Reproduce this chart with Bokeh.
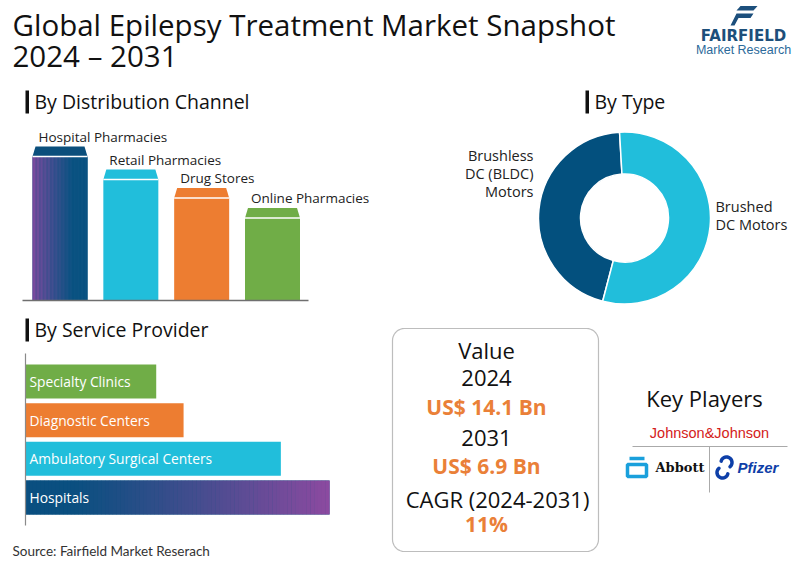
import numpy as np
from bokeh.plotting import figure
from bokeh.models import Range1d
from bokeh.core.properties import value
from bokeh.embed import file_html
from bokeh.resources import INLINE

# ---------------- data ----------------
title_lines = ["Global Epilepsy Treatment Market Snapshot", "2024 \u2013 2031"]
dist_channels = ["Hospital Pharmacies", "Retail Pharmacies", "Drug Stores", "Online Pharmacies"]
dist_values = [100, 85, 73, 60]
type_label_lines = [["Brushless", "DC (BLDC)", "Motors"], ["Brushed", "DC Motors"]]
type_shares = [45, 55]
service_providers = ["Specialty Clinics", "Diagnostic Centers", "Ambulatory Surgical Centers", "Hospitals"]
service_values = [43, 52, 84, 100]
value_lines = ["Value", "2024", "US$ 14.1 Bn", "2031", "US$ 6.9 Bn", "CAGR (2024-2031)", "11%"]
key_players = ["Johnson&Johnson", "Abbott", "Pfizer"]
source_text = "Source: Fairfield Market Reserach"

# ---------------- styles ----------------
FONT = "Open Sans"
CYAN = "#21bedb"
DBLUE = "#03507e"
ORANGE = "#ed7d31"
GREEN = "#70ad47"
TXT_ORANGE = "#ea8038"

W, H = 796, 560
X0, Y0 = 0, 0
p = figure(width=W, height=H, x_range=Range1d(X0, X0 + W), y_range=Range1d(Y0 + H, Y0),
           x_axis_type=None, y_axis_type=None, output_backend="svg",
           toolbar_location=None, min_border=0, title=None)
p.outline_line_color = None
p.background_fill_color = "white"
p.border_fill_color = "white"

xr, yr = {}, {}


def add_range(store, name, v0, s0, v1, s1, lo, hi):
    k = (s1 - s0) / (v1 - v0)
    store[name] = Range1d(start=v0 + (lo - s0) / k, end=v0 + (hi - s0) / k)
    return k


XL, XH = X0, X0 + W
YL, YH = Y0 + H, Y0
add_range(xr, "dx", 0, 59.5, 3, 272, XL, XH)
kdy = add_range(yr, "dy", 0, 300, 100, 146, YL, YH)
add_range(xr, "px", 0, 624, 1, 625, XL, XH)
add_range(yr, "py", 0, 217.5, 1, 216.5, YL, YH)
add_range(xr, "sx", 0, 25, 100, 329, XL, XH)
add_range(yr, "sy", 0, 381, 3, 497, YL, YH)
p.extra_x_ranges = xr
p.extra_y_ranges = yr


def hex2rgb(h):
    h = h.lstrip("#")
    return np.array([int(h[i:i + 2], 16) for i in (0, 2, 4)], dtype=float)


def lerp(c1, c2, t):
    a, b = hex2rgb(c1), hex2rgb(c2)
    c = a + (b - a) * t
    return "#%02x%02x%02x" % tuple(int(round(v)) for v in c)


def txt(x, y, s, size, color="#111111", align="left", baseline="middle",
        bold=False, italic=False, font=FONT, **kw):
    style = "bold" if bold else "normal"
    if italic:
        style = "bold italic" if bold else "italic"
    p.text(x=[x], y=[y], text=[s], text_font=value(font), text_font_size=size,
           text_color=color, text_align=align, text_baseline=baseline,
           text_font_style=style, **kw)


# ---------------- title + logo ----------------
txt(12, 24, title_lines[0], "29.5px")
txt(12, 55, title_lines[1], "29.5px")

p.patches(xs=[[740, 757, 753, 736], [736, 753, 750, 738, 734, 730]],
          ys=[[5.5, 5.5, 10, 10], [13, 13, 17.5, 17.5, 25, 25]],
          fill_color="#1c4f7c", line_color=None)
txt(743, 35, "FAIRFIELD", "15px", color="#1d4f7a", align="center", bold=True, font="DejaVu Sans")
txt(743, 49, "Market Research", "12.5px", color="#2b6a9a", align="center", font="Liberation Sans")

# ---------------- section headers ----------------
for (bx, by, label) in [(25, 90, "By Distribution Channel"), (585, 90, "By Type"),
                        (25, 318, "By Service Provider")]:
    p.quad(left=[bx], right=[bx + 3.5], top=[by], bottom=[by + 23], fill_color="#111111", line_color=None)
    txt(bx + 9, by + 10.5, label, "19.5px")

# ---------------- distribution channel (vertical bars) ----------------
bw = 55 / ((272 - 59.5) / 3)
cap_u = 10 / abs(kdy)
ins = 3 / ((272 - 59.5) / 3)
idx = list(range(len(dist_channels)))
body_colors = [DBLUE, CYAN, ORANGE, GREEN]
cap_colors = ["#0b4f7c", CYAN, ORANGE, GREEN]
p.vbar(x=idx, width=bw, top=[v - cap_u for v in dist_values], bottom=0,
       fill_color=body_colors, line_color=None, x_range_name="dx", y_range_name="dy")
# gradient on first bar (purple -> dark blue)
n = 40
gx = [idx[0] - bw / 2 + (j + 0.5) * bw / n for j in range(n)]
gc = [lerp("#7e4a9f", "#0b5382", min(1.0, (j / (n - 1)) * 1.35) ** 0.9) for j in range(n)]
p.vbar(x=gx, width=bw / n * 1.08, top=dist_values[0] - cap_u, bottom=0,
       fill_color=gc, line_color=None, x_range_name="dx", y_range_name="dy")
p.patches(xs=[[i - bw / 2, i - bw / 2 + ins, i + bw / 2 - ins, i + bw / 2] for i in idx],
          ys=[[v - cap_u, v, v, v - cap_u] for v in dist_values],
          fill_color=cap_colors, line_color=None, x_range_name="dx", y_range_name="dy")
p.segment(x0=[i - bw / 2 for i in idx], x1=[i + bw / 2 for i in idx],
          y0=[v - cap_u for v in dist_values], y1=[v - cap_u for v in dist_values],
          line_color="white", line_width=1.5, x_range_name="dx", y_range_name="dy")
p.text(x=[i - bw / 2 for i in idx], y=dist_values, text=dist_channels, x_offset=6, y_offset=-10,
       text_font=value(FONT), text_font_size="13.5px", text_color="#222222",
       text_baseline="middle", x_range_name="dx", y_range_name="dy")
p.segment(x0=[22], x1=[308], y0=[0], y1=[0], line_color="#6f6f6f", line_width=1.6,
          y_range_name="dy")

# ---------------- by type (donut) ----------------
fr = np.array(type_shares, dtype=float) / sum(type_shares)
a0 = np.deg2rad(93.3)
ends = a0 + np.cumsum(fr) * 2 * np.pi
starts = np.concatenate([[a0], ends[:-1]])
p.annular_wedge(x=[0, 0], y=[0, 0], inner_radius=44, outer_radius=86,
                start_angle=list(starts), end_angle=list(ends),
                fill_color=[DBLUE, CYAN], line_color="white", line_width=1.5,
                x_range_name="px", y_range_name="py")
for k_, s in enumerate(type_label_lines[0]):
    txt(533, 155 + 18 * k_, s, "14.5px", color="#222222", align="right")
for k_, s in enumerate(type_label_lines[1]):
    txt(715, 206 + 18 * k_, s, "14.5px", color="#222222", align="left")

# ---------------- by service provider (horizontal bars) ----------------
sidx = list(range(len(service_providers)))
hb_colors = [GREEN, ORANGE, CYAN, DBLUE]
hh = 34 / ((497 - 381) / 3)
p.hbar(y=sidx, left=0, right=service_values, height=hh, fill_color=hb_colors,
       line_color=None, x_range_name="sx", y_range_name="sy")
m = 80
hv = service_values[3]
gx2 = [(j + 0.5) * hv / m for j in range(m)]
gc2 = [lerp("#0a4f80", "#8b4aa0", max(0.0, (j / (m - 1) - 0.15) / 0.85) ** 1.1) for j in range(m)]
p.hbar(y=sidx[3], left=[x - hv / m * 0.55 for x in gx2], right=[x + hv / m * 0.55 for x in gx2],
       height=hh, fill_color=gc2, line_color=None, x_range_name="sx", y_range_name="sy")
p.text(x=[0] * len(sidx), y=sidx, text=service_providers, x_offset=4,
       text_font=value(FONT), text_font_size="13.8px", text_color="white",
       text_baseline="middle", x_range_name="sx", y_range_name="sy")
p.segment(x0=[0], x1=[0], y0=[353], y1=[525], line_color="#8a8a8a", line_width=1.2,
          x_range_name="sx")

# ---------------- value box ----------------
bx0, bx1, by0, by1, rr = 392, 598, 328, 551, 12
th = np.linspace(0, np.pi / 2, 10)
pts_x, pts_y = [], []
for cx, cy, a_start in [(bx1 - rr, by0 + rr, -np.pi / 2), (bx1 - rr, by1 - rr, 0),
                        (bx0 + rr, by1 - rr, np.pi / 2), (bx0 + rr, by0 + rr, np.pi)]:
    for t in th:
        pts_x.append(cx + rr * np.cos(a_start + t))
        pts_y.append(cy + rr * np.sin(a_start + t))
p.patch(x=pts_x, y=pts_y, fill_color=None, line_color="#bdbdbd", line_width=1.2)

vy = [349, 377, 406, 437, 465, 498, 523]
vx = [486, 486, 486, 486, 486, 497, 486]
for k_, s in enumerate(value_lines):
    orange = k_ in (2, 4, 6)
    txt(vx[k_], vy[k_], s, "21px" if orange else "22px",
        color=TXT_ORANGE if orange else "#111111", align="center", bold=orange)

# ---------------- key players ----------------
txt(704, 397, "Key Players", "22px", align="center")
txt(709, 432, key_players[0], "14.5px", color="#d4201a", align="center", font="Liberation Sans")
p.segment(x0=[632, 709], x1=[787, 709], y0=[446, 446], y1=[446, 492],
          line_color="#aaaaaa", line_width=1)
# Abbott mark
p.quad(left=[627], right=[646], top=[464], bottom=[476], fill_color=None,
       line_color="#1aa0dc", line_width=3.5)
p.segment(x0=[629], x1=[644], y0=[458], y1=[458], line_color="#1aa0dc", line_width=3.5)
txt(655, 467, key_players[1], "13px", color="#111111", bold=True, font="DejaVu Serif")
# Pfizer mark (two interlocking hooks)
t1 = np.deg2rad(np.linspace(165, -50, 24))
t2 = np.deg2rad(np.linspace(-15, -230, 24))
p.multi_line(xs=[list(726 + 5.5 * np.cos(t1)), list(722 + 5.5 * np.cos(t2))],
             ys=[list(462 - 5.5 * np.sin(t1)), list(472 - 5.5 * np.sin(t2))],
             line_color="#0e3fa8", line_width=3.5, line_cap="round")
txt(737, 467, key_players[2], "15px", color="#0e3fa8", bold=True, italic=True, font="Liberation Sans")

# ---------------- source ----------------
txt(12, 550, source_text, "13.5px", color="#333333", font="Lato")

open("out.html", "w").write(file_html(p, INLINE))
